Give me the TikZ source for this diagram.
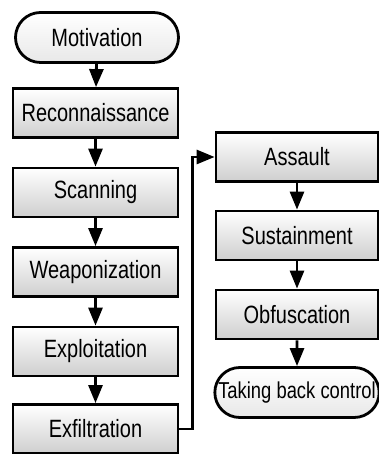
\documentclass[tikz,border=0pt]{standalone}
\usepackage{fontspec}
\setmainfont{Liberation Sans}[FakeStretch=0.8]
\usetikzlibrary{arrows.meta, shapes.misc}

\begin{document}
\begin{tikzpicture}[x=1pt, y=1pt, >={Triangle[length=18pt, width=14pt]}, line width=2.8pt]
				\tikzstyle{stage} = [draw=black, rectangle, top color=white, bottom color=gray!38, minimum width=165pt, minimum height=49pt, inner sep=0pt, font=\fontsize{25}{28}\selectfont]
				\tikzstyle{term} = [draw=black, rounded rectangle, top color=white, bottom color=gray!18, minimum width=165pt, minimum height=50pt, inner xsep=1pt, font=\fontsize{25}{28}\selectfont]
				
				\useasboundingbox (0,0) rectangle (379,454);
				
				\node[term]				at (97, 416.5)		(motiv)		{Motivation};
				\node[stage]			at (95.5, 341)		(recon)		{Reconnaissance};
				\node[stage]			at (95.5, 261.5)	(scan)		{Scanning};
				\node[stage]			at (95.5, 182)		(weapon)	{Weaponization};
				\node[stage]			at (95.5, 102.5)	(exploit)	{Exploitation};
				\node[stage]			at (95.5, 25)		(exfil)		{Exfiltration};
				\node[stage, minimum width=162pt]	at (297, 297)	(assault)	{Assault};
				\node[stage, minimum width=162pt]	at (297, 218.5)	(sustain)	{Sustainment};
				\node[stage, minimum width=162pt]	at (297, 139.5)	(obfus)		{Obfuscation};
				\node[term, minimum width=163pt, font=\fontsize{23}{26}\selectfont]	at (297, 61.5)	(takeback)	{Taking back control};
				
				\path[->]
				(motiv)		edge	(recon)
				(recon)		edge	(scan)
				(scan)		edge	(weapon)
				(weapon)	edge	(exploit)
				(exploit)	edge	(exfil)
				(assault)	edge	(sustain)
				(sustain)	edge	(obfus)
				(obfus)		edge	(takeback);
				
				\draw[->] (exfil.east) -- ++(13,0) |- (assault.west);
			\end{tikzpicture}
\end{document}
